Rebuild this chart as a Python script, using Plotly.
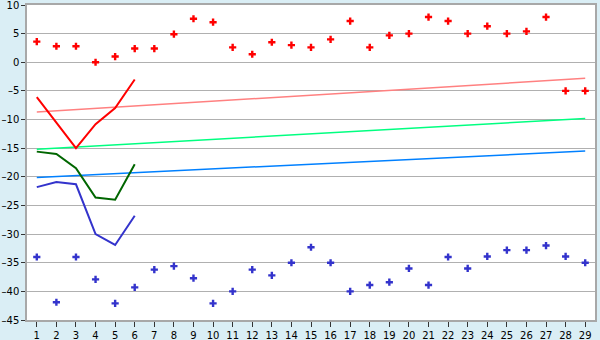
import plotly.graph_objects as go

cats = list(range(1, 30))
red_pts = [3.6, 2.8, 2.8, 0.0, 1.0, 2.4, 2.4, 4.9, 7.6, 7.0, 2.6, 1.4, 3.5, 3.0, 2.6, 4.0, 7.2, 2.6, 4.7,
           5.0, 7.9, 7.2, 5.0, 6.3, 5.0, 5.4, 7.9, -5.0, -5.0]
blue_pts = [-34.0, -41.9, -34.0, -37.9, -42.1, -39.3, -36.2, -35.6, -37.7, -42.1, -40.0, -36.2, -37.2, -35.0,
            -32.3, -35.0, -40.0, -38.9, -38.4, -36.0, -38.9, -34.0, -36.0, -33.9, -32.8, -32.8, -32.0, -33.9, -35.0]
line_x = [1, 2, 3, 4, 5, 6]
red_line = [-6.1, -10.5, -15.0, -10.8, -8.0, -3.0]
green_line = [-15.6, -16.0, -18.5, -23.6, -24.0, -17.8]
blue_line = [-21.8, -20.9, -21.3, -30.0, -31.9, -26.8]
trend_x = [1, 29]
red_trend = [-8.7, -2.8]
green_trend = [-15.2, -9.8]
blue_trend = [-20.1, -15.5]
y_ticks = [10, 5, 0, -5, -10, -15, -20, -25, -30, -35, -40, -45]
y_tick_labels = ["10", "5", "0", "\u20135", "\u201310", "\u201315", "\u201320", "\u201325",
                 "\u201330", "\u201335", "\u201340", "\u201345"]

fig = go.Figure()
fig.add_trace(go.Scatter(x=trend_x, y=red_trend, mode="lines", line=dict(color="#ff8080", width=1.5)))
fig.add_trace(go.Scatter(x=trend_x, y=green_trend, mode="lines", line=dict(color="#00ff80", width=1.5)))
fig.add_trace(go.Scatter(x=trend_x, y=blue_trend, mode="lines", line=dict(color="#0080ff", width=1.5)))
fig.add_trace(go.Scatter(x=line_x, y=red_line, mode="lines", line=dict(color="#ff0000", width=2)))
fig.add_trace(go.Scatter(x=line_x, y=green_line, mode="lines", line=dict(color="#006600", width=2)))
fig.add_trace(go.Scatter(x=line_x, y=blue_line, mode="lines", line=dict(color="#3333cc", width=2)))
fig.add_trace(go.Scatter(x=cats, y=red_pts, mode="markers",
                         marker=dict(symbol="cross", size=6, color="#ff0000")))
fig.add_trace(go.Scatter(x=cats, y=blue_pts, mode="markers",
                         marker=dict(symbol="cross", size=6, color="#3333cc")))

fig.update_layout(
    width=600, height=340,
    margin=dict(l=27, r=5, t=5, b=20, autoexpand=False),
    paper_bgcolor="#daeef5", plot_bgcolor="#ffffff",
    showlegend=False,
    font=dict(family="DejaVu Sans", size=10, color="#000000"),
)
fig.update_xaxes(range=[0.5, 29.5], tickvals=cats, ticktext=[str(c) for c in cats],
                 showgrid=False, zeroline=False, showline=True, linecolor="#a8a8a8", linewidth=1.5,
                 mirror=True, ticks="outside", ticklen=5, tickcolor="#333333", tickwidth=1,
                 automargin=False, ticklabeloverflow="allow")
fig.update_yaxes(range=[-45, 10], tickvals=y_ticks, ticktext=y_tick_labels,
                 showgrid=True, gridcolor="#b0b0b0", gridwidth=1,
                 zeroline=False, showline=True, linecolor="#a8a8a8", linewidth=1.5, mirror=True,
                 ticks="outside", ticklen=4, tickcolor="#333333", tickwidth=1,
                 automargin=False, ticklabeloverflow="allow")
fig.write_html("out.html")
